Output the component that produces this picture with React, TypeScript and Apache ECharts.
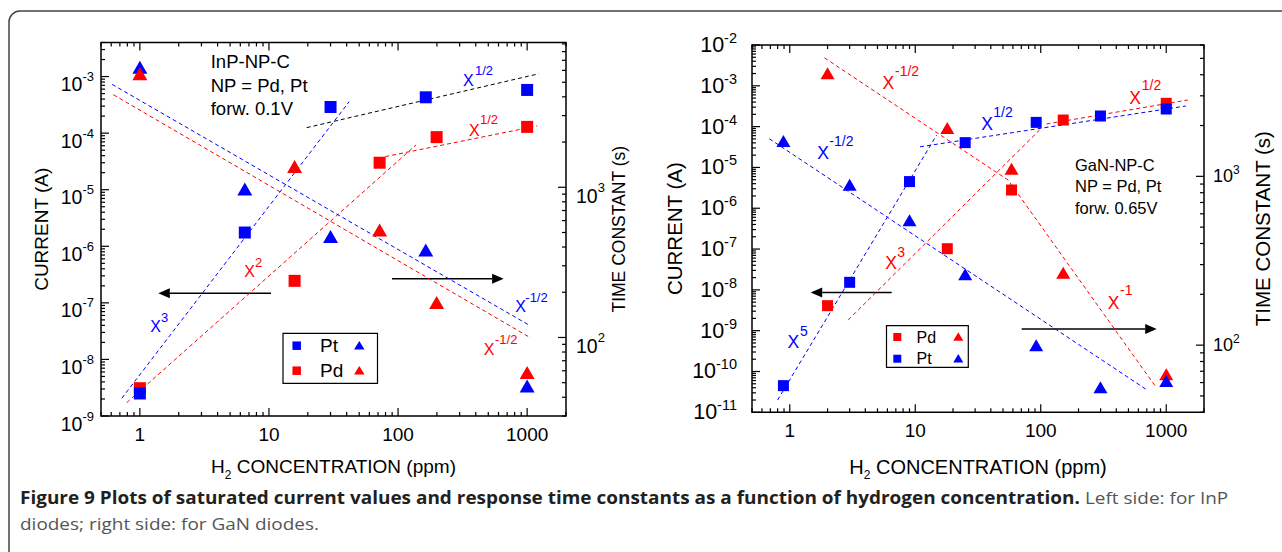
import React, { useEffect, useRef } from 'react';
import * as echarts from 'echarts';

const FONT = '"Liberation Sans", Arial, Helvetica, sans-serif';
const CAPFONT = '"Open Sans", "Liberation Sans", sans-serif';
const BLUE = '#0000ff';
const RED = '#ff0000';

// ---------- Left panel: InP-NP-C ----------
const inpPtConc = [1, 6.5, 30, 164, 1000];
const inpPtCurrent = [2.5e-9, 1.75e-6, 2.9e-4, 4.3e-4, 5.8e-4];
const inpPtTau = [6300, 975, 470, 382, 47.6];
const inpPdConc = [1, 15.8, 72, 199, 1000];
const inpPdCurrent = [3.1e-9, 2.45e-7, 3.0e-5, 8.5e-5, 1.29e-4];
const inpPdTau = [5700, 1373, 520, 171, 58.4];

const inpFitPtX3X = [0.725, 41.8];
const inpFitPtX3Y = [2.06e-9, 3.6e-4];
const inpFitPdX2X = [0.79, 138];
const inpFitPdX2Y = [1.72e-9, 6.2e-5];
const inpFitPdHalfX = [79.6, 1197];
const inpFitPdHalfY = [3.85e-5, 1.34e-4];
const inpFitPtHalfX = [19.6, 1230];
const inpFitPtHalfY = [1.25e-4, 1.12e-3];
const inpFitPtTauX = [0.61, 1050];
const inpFitPtTauY = [4840, 120];
const inpFitPdTauX = [0.624, 1072];
const inpFitPdTauY = [4130, 99];

// ---------- Right panel: GaN-NP-C ----------
const ganPtConc = [0.89, 3, 9, 25, 92, 299, 1000];
const ganPtCurrent = [4.5e-11, 1.53e-8, 4.5e-6, 4.05e-5, 1.27e-4, 1.82e-4, 2.7e-4];
const ganPtTau = [1619, 893, 550, 263, 100, 56.2, 61.3];
const ganPdConc = [2, 18, 58.5, 151, 1000];
const ganPdCurrent = [4.1e-9, 1.02e-7, 2.8e-6, 1.45e-4, 3.73e-4];
const ganPdTau = [4085, 1931, 1110, 268, 67.3];

const ganFitPtX5X = [0.8, 14.8];
const ganFitPtX5Y = [2.0e-11, 6.2e-5];
const ganFitPdX3X = [2.92, 98];
const ganFitPdX3Y = [1.83e-9, 8.3e-5];
const ganFitPtHalfX = [10.9, 1435];
const ganFitPtHalfY = [3.2e-5, 3.2e-4];
const ganFitPdHalfX = [111, 1489];
const ganFitPdHalfY = [1.16e-4, 4.49e-4];
const ganFitPdTauX = [1.89, 55, 830];
const ganFitPdTauY = [5035, 950, 56.3];
const ganFitPtTauX = [0.687, 704];
const ganFitPtTauY = [1670, 54.2];

// axis ranges
const concRange: [number, number] = [0.5, 2000];
const inpCurrentRange: [number, number] = [1e-9, 4e-3];
const inpTauRange: [number, number] = [30, 9200];
const ganCurrentRange: [number, number] = [1e-11, 1e-2];
const ganTauRange: [number, number] = [40, 6000];

const captionBold =
  'Figure 9 Plots of saturated current values and response time constants as a function of hydrogen concentration.';
const captionNormal1 = ' Left side: for InP';
const captionNormal2 = 'diodes; right side: for GaN diodes.';

const zip = (xs: number[], ys: number[]) => xs.map((x, i) => [x, ys[i]]);

const isPow10 = (v: number) => {
  const e = Math.log10(v);
  return Math.abs(e - Math.round(e)) < 1e-6;
};
const yFmt = (v: number) => (isPow10(v) ? `{b|10}{s|${Math.round(Math.log10(v))}}` : '');
const xFmt = (v: number) => (isPow10(v) ? String(Math.round(v)) : '');

const logTicks = (r: [number, number]) => {
  const out: { v: number; major: boolean }[] = [];
  for (let d = Math.floor(Math.log10(r[0])) - 1; d <= Math.ceil(Math.log10(r[1])); d++) {
    for (let m = 1; m <= 9; m++) {
      const v = m * Math.pow(10, d);
      if (v >= r[0] * 0.9999 && v <= r[1] * 1.0001) out.push({ v, major: m === 1 });
    }
  }
  return out;
};

function tickSeries(grid: number, yIdx: number, side: 'left' | 'right', yr: [number, number], drawX: boolean) {
  return {
    type: 'custom',
    xAxisIndex: grid,
    yAxisIndex: yIdx,
    silent: true,
    clip: false,
    z: 6,
    data: [[1, Math.sqrt(yr[0] * yr[1])]],
    renderItem: (params: any, api: any) => {
      const cs = params.coordSys;
      const st = { stroke: '#000', lineWidth: 1.2 };
      const ch: any[] = [];
      const yMid = Math.sqrt(yr[0] * yr[1]);
      if (drawX) {
        for (const t of logTicks(concRange)) {
          const px = api.coord([t.v, yMid])[0];
          const L = t.major ? 8 : 4;
          const yb = cs.y + cs.height;
          ch.push({ type: 'line', shape: { x1: px, y1: yb, x2: px, y2: yb - L }, style: st });
          ch.push({ type: 'line', shape: { x1: px, y1: cs.y, x2: px, y2: cs.y + L }, style: st });
        }
      }
      for (const t of logTicks(yr)) {
        const py = api.coord([1, t.v])[1];
        const L = t.major ? 8 : 4;
        const x0 = side === 'left' ? cs.x : cs.x + cs.width;
        const dir = side === 'left' ? 1 : -1;
        ch.push({ type: 'line', shape: { x1: x0, y1: py, x2: x0 + dir * L, y2: py }, style: st });
      }
      return { type: 'group', children: ch };
    },
  };
}

const scatter = (name: string, grid: number, yIdx: number, xs: number[], ys: number[], color: string, symbol: string, size: any) => ({
  name,
  type: 'scatter',
  xAxisIndex: grid,
  yAxisIndex: yIdx,
  data: zip(xs, ys),
  symbol,
  symbolSize: size,
  itemStyle: { color, opacity: 1 },
  silent: true,
  z: 4,
});

const fit = (grid: number, yIdx: number, xs: number[], ys: number[], color: string) => ({
  type: 'line',
  xAxisIndex: grid,
  yAxisIndex: yIdx,
  data: zip(xs, ys),
  symbol: 'none',
  silent: true,
  z: 3,
  lineStyle: { color, width: 1, type: [4, 3] },
});

function xAxisDef(grid: number, nameGap: number, nameSize: number) {
  return {
    type: 'log',
    logBase: 10,
    gridIndex: grid,
    min: concRange[0],
    max: concRange[1],
    axisLine: { show: false },
    axisTick: { show: false },
    splitLine: { show: false },
    axisLabel: { formatter: xFmt, fontSize: 19, color: '#000', margin: 9, fontFamily: FONT },
    name: '{a|H}{s|2}{a| CONCENTRATION (ppm)}',
    nameLocation: 'middle',
    nameGap,
    nameTextStyle: {
      color: '#000',
      fontFamily: FONT,
      fontSize: nameSize,
      rich: {
        a: { fontSize: nameSize, fontFamily: FONT, color: '#000' },
        s: { fontSize: 12, fontFamily: FONT, color: '#000', padding: [17, 0, 0, 0] },
      },
    },
  };
}

function yAxisDef(
  grid: number,
  pos: 'left' | 'right',
  r: [number, number],
  name: string,
  nameGap: number,
  nameSize: number,
  bSize: number,
  sSize: number,
  bPad: number,
  sPad: number,
  margin: number
) {
  return {
    type: 'log',
    logBase: 10,
    gridIndex: grid,
    position: pos,
    min: r[0],
    max: r[1],
    axisLine: { show: false },
    axisTick: { show: false },
    splitLine: { show: false },
    axisLabel: {
      formatter: yFmt,
      margin,
      color: '#000',
      fontFamily: FONT,
      rich: {
        b: { fontSize: bSize, fontFamily: FONT, color: '#000', padding: [bPad, 0, 0, 0] },
        s: { fontSize: sSize, fontFamily: FONT, color: '#000', padding: [0, 0, sPad, 0] },
      },
    },
    name,
    nameLocation: 'middle',
    nameGap,
    nameTextStyle: { color: '#000', fontFamily: FONT, fontSize: nameSize },
  };
}

const txt = (x: number, y: number, text: string, size: number, color = '#000', align = 'left') => ({
  type: 'text',
  x,
  y,
  silent: true,
  style: {
    text,
    fill: color,
    fontSize: size,
    fontFamily: FONT,
    align,
    textAlign: align,
    verticalAlign: 'middle',
    textVerticalAlign: 'middle',
  },
});

const power = (xc: number, yc: number, sup: string, sx: number, sy: number, color: string, fs: number, ss: number) => [
  txt(xc, yc, 'X', fs, color, 'center'),
  txt(sx, sy, sup, ss, color, 'left'),
];

const tri = (cx: number, cy: number, w: number, h: number, color: string) => ({
  type: 'polygon',
  silent: true,
  shape: { points: [[cx, cy - h / 2], [cx - w / 2, cy + h / 2], [cx + w / 2, cy + h / 2]] },
  style: { fill: color },
});
const sq = (cx: number, cy: number, s: number, color: string) => ({
  type: 'rect',
  silent: true,
  shape: { x: cx - s / 2, y: cy - s / 2, width: s, height: s },
  style: { fill: color },
});

const arrow = (x1: number, x2: number, y: number) => {
  const dir = x2 > x1 ? 1 : -1;
  const base = x2 - dir * 11.5;
  return [
    { type: 'line', silent: true, shape: { x1, y1: y, x2: base, y2: y }, style: { stroke: '#000', lineWidth: 1.4 } },
    { type: 'polygon', silent: true, shape: { points: [[x2, y], [base, y - 5], [base, y + 5]] }, style: { fill: '#000' } },
  ];
};

function buildOption() {
  const ctx = document.createElement('canvas').getContext('2d')!;
  ctx.font = `bold 17px ${CAPFONT}`;
  const wb = ctx.measureText(captionBold).width;
  ctx.font = `17px ${CAPFONT}`;
  const wn = ctx.measureText(captionNormal1).width;
  const capScale = (1228 - 20) / (wb + wn);

  const graphic: any[] = [
    {
      type: 'rect',
      silent: true,
      z: -10,
      shape: { x: 9, y: 11, width: 1300, height: 580, r: 11 },
      style: { fill: 'none', stroke: '#444', lineWidth: 1.5 },
    },
    {
      type: 'text',
      x: 20,
      y: 497,
      scaleX: capScale,
      silent: true,
      style: {
        text: `{b|${captionBold}}{n|${captionNormal1}}`,
        verticalAlign: 'middle',
        textVerticalAlign: 'middle',
        rich: {
          b: { fontSize: 17, fontWeight: 'bold', fontFamily: CAPFONT, fill: '#231f20' },
          n: { fontSize: 17, fontFamily: CAPFONT, fill: '#555555' },
        },
      },
    },
    {
      type: 'text',
      x: 20,
      y: 523,
      scaleX: capScale,
      silent: true,
      style: {
        text: captionNormal2,
        fontSize: 17,
        fontFamily: CAPFONT,
        fill: '#555555',
        verticalAlign: 'middle',
        textVerticalAlign: 'middle',
      },
    },
    // left panel notes
    txt(210.7, 61.7, 'InP-NP-C', 18.5),
    txt(210.7, 85, 'NP = Pd, Pt', 18.5),
    txt(210.7, 108.3, 'forw. 0.1V', 18.5),
    // right panel notes
    txt(1075, 165, 'GaN-NP-C', 16.5),
    txt(1075, 186, 'NP = Pd, Pt', 16.5),
    txt(1075, 207.5, 'forw. 0.65V', 16.5),
    // left power-law labels
    ...power(468.3, 80.5, '1/2', 475, 70, BLUE, 16, 13),
    ...power(474.3, 130, '1/2', 480, 119, RED, 16, 13),
    ...power(249.5, 271, '2', 255, 262, RED, 16, 13),
    ...power(155.5, 326, '3', 161, 317.5, BLUE, 16, 13),
    ...power(520.5, 306.7, '-1/2', 525.3, 297.5, BLUE, 16, 13),
    ...power(489, 349, '-1/2', 495, 339, RED, 16, 13),
    // right power-law labels
    ...power(888.3, 82.5, '-1/2', 895, 71, RED, 17.5, 14),
    ...power(823, 153, '-1/2', 829.3, 141, BLUE, 17.5, 14),
    ...power(987, 123.7, '1/2', 993.3, 112, BLUE, 17.5, 14),
    ...power(1135, 97.5, '1/2', 1141.7, 84.7, RED, 17.5, 14),
    ...power(891, 263.3, '3', 897.3, 252, RED, 17.5, 14),
    ...power(793.3, 342, '5', 800, 330.5, BLUE, 17.5, 14),
    ...power(1113.5, 302.7, '-1', 1120, 290, RED, 17.5, 14),
    // arrows
    ...arrow(271, 158.3, 293.3),
    ...arrow(392, 503.6, 278.7),
    ...arrow(891.7, 810.7, 292.5),
    ...arrow(1021.7, 1156.7, 329),
    // left legend
    {
      type: 'rect',
      silent: true,
      shape: { x: 283, y: 333.3, width: 94.5, height: 50 },
      style: { fill: '#fff', stroke: '#000', lineWidth: 1.2 },
    },
    sq(296.7, 345.7, 8.5, BLUE),
    txt(320, 345.7, 'Pt', 19),
    tri(359.3, 345.2, 10.5, 8.5, BLUE),
    sq(296.7, 370.7, 8.5, RED),
    txt(320, 370.7, 'Pd', 19),
    tri(359.3, 370.2, 10.5, 8.5, RED),
    // right legend
    {
      type: 'rect',
      silent: true,
      shape: { x: 886.5, y: 325.7, width: 81.8, height: 41.6 },
      style: { fill: '#fff', stroke: '#000', lineWidth: 1.2 },
    },
    sq(897.3, 337, 8, RED),
    txt(916.5, 337, 'Pd', 16),
    tri(958.3, 336.5, 10, 8.5, RED),
    sq(897.3, 358.7, 8, BLUE),
    txt(916.5, 358.7, 'Pt', 16),
    tri(958.3, 358.2, 10, 8.5, BLUE),
  ];

  return {
    animation: false,
    backgroundColor: '#ffffff',
    textStyle: { fontFamily: FONT },
    grid: [
      { left: 101, top: 42.5, width: 465, height: 373.5, show: true, borderColor: '#000', borderWidth: 1.5, containLabel: false, outerBoundsMode: 'none' },
      { left: 752, top: 45, width: 452, height: 367.3, show: true, borderColor: '#000', borderWidth: 1.5, containLabel: false, outerBoundsMode: 'none' },
    ],
    xAxis: [xAxisDef(0, 36, 19), xAxisDef(1, 40, 20)],
    yAxis: [
      yAxisDef(0, 'left', inpCurrentRange, 'CURRENT (A)', 50, 19, 19.5, 13, 15, 0, 7),
      yAxisDef(0, 'right', inpTauRange, 'TIME CONSTANT (s)', 44, 17.5, 19.5, 13, 17, 0, 10),
      yAxisDef(1, 'left', ganCurrentRange, 'CURRENT (A)', 67, 20.5, 21.5, 14.5, 0, 14, 15),
      yAxisDef(1, 'right', ganTauRange, 'TIME CONSTANT (s)', 48, 20.5, 18, 12, 0, 12, 9),
    ],
    series: [
      fit(0, 0, inpFitPtX3X, inpFitPtX3Y, BLUE),
      fit(0, 0, inpFitPdX2X, inpFitPdX2Y, RED),
      fit(0, 0, inpFitPdHalfX, inpFitPdHalfY, RED),
      fit(0, 0, inpFitPtHalfX, inpFitPtHalfY, '#000'),
      fit(0, 1, inpFitPtTauX, inpFitPtTauY, BLUE),
      fit(0, 1, inpFitPdTauX, inpFitPdTauY, RED),
      fit(1, 2, ganFitPtX5X, ganFitPtX5Y, BLUE),
      fit(1, 2, ganFitPdX3X, ganFitPdX3Y, RED),
      fit(1, 2, ganFitPtHalfX, ganFitPtHalfY, BLUE),
      fit(1, 2, ganFitPdHalfX, ganFitPdHalfY, RED),
      fit(1, 3, ganFitPdTauX, ganFitPdTauY, RED),
      fit(1, 3, ganFitPtTauX, ganFitPtTauY, BLUE),
      scatter('InP Pd current', 0, 0, inpPdConc, inpPdCurrent, RED, 'rect', 12),
      scatter('InP Pt current', 0, 0, inpPtConc, inpPtCurrent, BLUE, 'rect', 12),
      scatter('InP Pt tau', 0, 1, inpPtConc, inpPtTau, BLUE, 'triangle', [15, 13]),
      scatter('InP Pd tau', 0, 1, inpPdConc, inpPdTau, RED, 'triangle', [15, 13]),
      scatter('GaN Pd current', 1, 2, ganPdConc, ganPdCurrent, RED, 'rect', 11),
      scatter('GaN Pt current', 1, 2, ganPtConc, ganPtCurrent, BLUE, 'rect', 11),
      scatter('GaN Pd tau', 1, 3, ganPdConc, ganPdTau, RED, 'triangle', [14, 12]),
      scatter('GaN Pt tau', 1, 3, ganPtConc, ganPtTau, BLUE, 'triangle', [14, 12]),
      tickSeries(0, 0, 'left', inpCurrentRange, true),
      tickSeries(0, 1, 'right', inpTauRange, false),
      tickSeries(1, 2, 'left', ganCurrentRange, true),
      tickSeries(1, 3, 'right', ganTauRange, false),
    ],
    graphic,
  };
}

export default function App() {
  const ref = useRef<HTMLDivElement>(null);
  useEffect(() => {
    document.body.style.margin = '0';
    const chart = echarts.init(ref.current!, null, { renderer: 'svg' });
    chart.setOption(buildOption() as any);
    return () => chart.dispose();
  }, []);
  return <div ref={ref} style={{ width: 1282, height: 552 }} />;
}
